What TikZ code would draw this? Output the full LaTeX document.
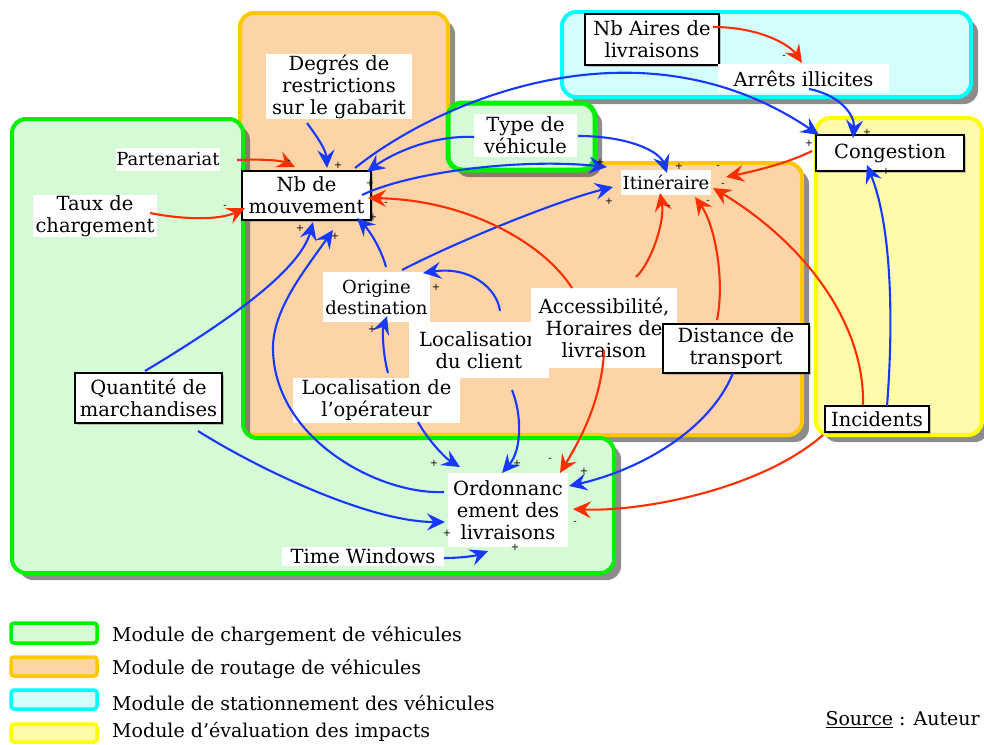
\documentclass[tikz,border=0pt]{standalone}
\usepackage{fontspec}
\setmainfont{DejaVu Serif}
\usetikzlibrary{arrows.meta,shadows,calc}
\definecolor{gborder}{HTML}{00F000}
\definecolor{gfill}{HTML}{D5FAD5}
\definecolor{ofill}{HTML}{FDD4A8}
\definecolor{oborder}{HTML}{FFC800}
\definecolor{cborder}{HTML}{00FFFF}
\definecolor{cfill}{HTML}{D4FFFF}
\definecolor{yborder}{HTML}{FFFF00}
\definecolor{yfill}{HTML}{FFFBAA}
\definecolor{ablue}{HTML}{1638FF}
\definecolor{ared}{HTML}{FF2E00}
\begin{document}
\begin{tikzpicture}[x=1pt,y=-1pt,
 every node/.style={font=\fontsize{19.5}{22}\selectfont},
 lbl/.style={fill=white, align=center, inner sep=0pt},
 boxd/.style={draw=black, line width=2pt, fill=white, align=center, inner sep=0pt,
   drop shadow={shadow xshift=2pt,shadow yshift=-2pt,opacity=.45}},
 region/.style={line width=4pt, rounded corners=14pt,
   drop shadow={shadow xshift=7pt, shadow yshift=-7pt, opacity=.6, fill=black!75}},
 conn/.style={line width=2.1pt, -{Stealth[length=18pt,width=17pt,inset=6.5pt]}},
 bl/.style={conn, draw=ablue},
 rd/.style={conn, draw=ared},
 sgn/.style={font=\fontsize{10}{10}\selectfont, inner sep=0pt},
 legbox/.style={line width=3.5pt, rounded corners=3pt},
 legtxt/.style={anchor=west, inner sep=0pt, font=\fontsize{19}{22}\selectfont}
]
\useasboundingbox (0,0) rectangle (984,744);

% ---------- regions ----------
\path[region, draw=cborder, fill=cfill] (562,12) rectangle (971,97);
\path[region, draw=yborder, fill=yfill] (816,118) rectangle (982,435);
\path[region, draw=oborder, fill=ofill] (240,13) -- (448,13) -- (448,163) -- (802,163) -- (802,435) -- (240,435) -- cycle;
\path[region, draw=gborder, fill=gfill] (12,119) -- (243,119) -- (243,438) -- (614,438) -- (614,573) -- (12,573) -- cycle;
\path[region, draw=gborder, fill=gfill, line width=5pt] (448,103) rectangle (595,170);

% ---------- nodes ----------
\node[lbl, minimum width=146pt, minimum height=65pt] (degres) at (339,86.5) {Degrés de\\restrictions\\sur le gabarit};
\node[lbl, minimum width=104pt, minimum height=23pt, font=\fontsize{18}{20}\selectfont] (partenariat) at (168,159.5) {Partenariat};
\node[lbl, minimum width=124pt, minimum height=42pt] (taux) at (95,216) {Taux de\\chargement};
\node[boxd, minimum width=129pt, minimum height=49pt] (nbmouv) at (306.5,195.5) {Nb de\\mouvement};
\node[lbl, minimum width=103pt, minimum height=43pt] (type) at (525.5,135.5) {Type de\\véhicule};
\node[lbl, minimum width=90pt, minimum height=25pt, font=\fontsize{18}{20}\selectfont] (itin) at (666,182.5) {Itinéraire};
\node[boxd, minimum width=134pt, minimum height=51pt] (nbaires) at (652,39.5) {Nb Aires de\\livraisons};
\node[lbl, minimum width=171pt, minimum height=29pt] (arrets) at (803.5,78.5) {Arrêts illicites};
\node[boxd, minimum width=148pt, minimum height=36pt] (congestion) at (890,153) {Congestion};
\node[lbl, minimum width=107pt, minimum height=50pt, font=\fontsize{18}{21}\selectfont] (origine) at (376.5,297) {Origine\\destination};
\node[lbl, minimum width=140pt, minimum height=56pt] (locclient) at (479,350) {Localisation\\du client};
\node[lbl, minimum width=146pt, minimum height=80pt] (access) at (604,328) {Accessibilité,\\Horaires de\\livraison};
\node[boxd, minimum width=146pt, minimum height=49pt] (distance) at (736,348.5) {Distance de\\transport};
\node[lbl, minimum width=167pt, minimum height=45pt] (locop) at (376.5,400.5) {Localisation de\\l’opérateur};
\node[boxd, minimum width=147pt, minimum height=50pt] (quantite) at (148.5,398) {Quantité de\\marchandises};
\node[boxd, minimum width=104pt, minimum height=26pt] (incidents) at (877,419) {Incidents};
\node[lbl, minimum width=120pt, minimum height=74pt] (ordo) at (508,510) {Ordonnanc\\ement des\\livraisons};
\node[lbl, minimum width=162pt, minimum height=19pt] (timew) at (363,556) {Time Windows};

% ---------- blue connectors ----------
\draw[bl] ($(degres)+(-32,36.5)$) .. controls (318,138) and (326,150) .. ($(nbmouv)+(20.5,-27.5)$);
\draw[bl] ($(type)+(-51.5,1.5)$) .. controls (430,135) and (390,155) .. ($(nbmouv)+(60.5,-23.5)$);
\draw[bl] ($(nbmouv)+(48.5,-27.5)$) .. controls (440,100) and (640,14) .. ($(congestion)+(-71,-18)$);
\draw[bl] ($(nbmouv)+(55.5,-0.5)$) .. controls (410,172) and (520,158) .. ($(itin)+(-59,-15.5)$);
\draw[bl] ($(type)+(52.5,0.5)$) .. controls (630,136) and (660,152) .. ($(itin)+(1,-9.5)$);
\draw[bl] ($(origine)+(25.5,-27)$) .. controls (460,240) and (560,200) .. ($(itin)+(-53,4.5)$);
\draw[bl] ($(origine)+(9.5,-30)$) .. controls (380,245) and (367,228) .. ($(nbmouv)+(50.5,22.5)$);
\draw[bl] ($(quantite)+(-3.5,-27)$) .. controls (230,320) and (300,270) .. ($(nbmouv)+(6.5,26.5)$);
\draw[bl] ($(ordo)+(-64,-18)$) .. controls (380,495) and (275,440) .. (273,350) .. controls (272,310) and (305,270) .. ($(nbmouv)+(26.5,34.5)$);
\draw[bl] ($(locop)+(11.5,-27.5)$) .. controls (383,355) and (382,330) .. ($(origine)+(10.5,19)$);
\draw[bl] ($(locclient)+(21,-39)$) .. controls (497,288) and (470,266) .. ($(origine)+(46.5,-24)$);
\draw[bl] ($(locop)+(41.5,21.5)$) .. controls (428,440) and (445,458) .. ($(ordo)+(-48,-43)$);
\draw[bl] ($(locclient)+(33,40)$) .. controls (522,415) and (522,450) .. ($(ordo)+(-6,-37)$);
\draw[bl] ($(distance)+(-3,24.5)$) .. controls (710,430) and (640,470) .. ($(ordo)+(61,-24)$);
\draw[bl] ($(quantite)+(49.5,33)$) .. controls (260,470) and (370,522) .. ($(ordo)+(-63,12)$);
\draw[bl] ($(timew)+(81,2)$) .. controls (460,558) and (475,556) .. ($(ordo)+(-20,41)$);
\draw[bl] ($(arrets)+(5.5,10.5)$) .. controls (840,95) and (855,115) .. ($(congestion)+(-37,-15)$);
\draw[bl] ($(incidents)+(10,-13)$) .. controls (893,330) and (893,230) .. ($(congestion)+(-23,12)$);

% ---------- red connectors ----------
\draw[rd] ($(partenariat)+(69,0.5)$) .. controls (258,159) and (280,160) .. ($(nbmouv)+(-11.5,-28.5)$);
\draw[rd] ($(taux)+(55,-3)$) .. controls (185,220) and (220,220) .. ($(nbmouv)+(-61.5,12.5)$);
\draw[rd] ($(access)+(-32,-40)$) .. controls (545,245) and (470,200) .. ($(nbmouv)+(61.5,2.5)$);
\draw[rd] ($(access)+(32,-51)$) .. controls (652,262) and (665,220) .. ($(itin)+(-6,10.5)$);
\draw[rd] ($(distance)+(-19,-28.5)$) .. controls (725,280) and (715,225) .. ($(itin)+(29,14.5)$);
\draw[rd] ($(incidents)+(-14,-14)$) .. controls (865,320) and (800,240) .. ($(itin)+(47,5.5)$);
\draw[rd] ($(congestion)+(-78,-2)$) .. controls (790,162) and (760,170) .. ($(itin)+(60,-5.5)$);
\draw[rd] ($(nbaires)+(61,-12.5)$) .. controls (760,27) and (790,45) .. ($(arrets)+(-1.5,-15.5)$);
\draw[rd] ($(access)+(0,22)$) .. controls (602,400) and (580,440) .. ($(ordo)+(52,-37)$);
\draw[rd] ($(incidents)+(-54,16)$) .. controls (760,490) and (640,512) .. ($(ordo)+(65,-1)$);

% ---------- polarity signs ----------
\node[sgn] (s1) at (289,162) {-};
\node[sgn] (s2) at (338,165) {+};
\node[sgn] (s3) at (225,207) {-};
\node[sgn] (s4) at (370,183) {+};
\node[sgn] (s5) at (386,204) {-};
\node[sgn] (s6) at (373,217) {+};
\node[sgn] (s7) at (300,228) {+};
\node[sgn] (s8) at (335,236) {+};
\node[sgn] (s9) at (600,162) {+};
\node[sgn] (s10) at (679,166) {+};
\node[sgn] (s11) at (718,167) {-};
\node[sgn] (s12) at (723,185) {-};
\node[sgn] (s13) at (708,202) {-};
\node[sgn] (s14) at (669,207) {-};
\node[sgn] (s15) at (609,201) {+};
\node[sgn] (s16) at (784,57) {-};
\node[sgn] (s17) at (809,143) {+};
\node[sgn] (s18) at (867,132) {+};
\node[sgn] (s19) at (886,171) {+};
\node[sgn] (s20) at (436,287) {+};
\node[sgn] (s21) at (372,329) {+};
\node[sgn] (s22) at (434,463) {+};
\node[sgn] (s23) at (517,463) {+};
\node[sgn] (s24) at (550,460) {-};
\node[sgn] (s25) at (584,471) {+};
\node[sgn] (s26) at (575,523) {-};
\node[sgn] (s27) at (447,533) {+};
\node[sgn] (s28) at (515,547) {+};

% ---------- legend ----------
\path[legbox, draw=gborder, fill=gfill] (11,623) rectangle (97,643);
\path[legbox, draw=oborder, fill=ofill] (11,657) rectangle (97,676);
\path[legbox, draw=cborder, fill=cfill] (11,690) rectangle (97,709);
\path[legbox, draw=yborder, fill=yfill] (11,724) rectangle (97,742);
\node[legtxt] (lg1) at (112,636) {Module de chargement de véhicules};
\node[legtxt] (lg2) at (112,669) {Module de routage de véhicules};
\node[legtxt] (lg3) at (112,703) {Module de stationnement des véhicules};
\node[legtxt] (lg4) at (112,732) {Module d’évaluation des impacts};
\node[anchor=east, inner sep=0pt, font=\fontsize{19}{22}\selectfont] (src) at (980,720) {\underline{Source} : Auteur};
\end{tikzpicture}
\end{document}
